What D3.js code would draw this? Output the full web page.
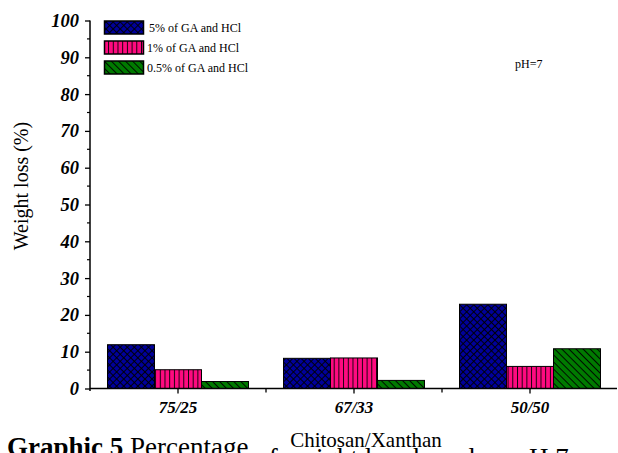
<!DOCTYPE html>
<html>
<head>
<meta charset="utf-8">
<script src="https://cdn.jsdelivr.net/npm/d3@7"></script>
<style>
  body { margin: 0; background: #fff; }
  svg { display: block; font-family: "Liberation Serif", "Times New Roman", serif; }
</style>
</head>
<body>
<svg width="618" height="453"></svg>
<script>
// data
const categories = ['75/25', '67/33', '50/50']
const seriesNames = ['5% of GA and HCl', '1% of GA and HCl', '0.5% of GA and HCl']
const ga5 = [11.9, 8.2, 22.9]
const ga1 = [5.1, 8.3, 6.0]
const ga05 = [1.9, 2.2, 10.8]
const yTicks = [0, 10, 20, 30, 40, 50, 60, 70, 80, 90, 100]

const seriesValues = [ga5, ga1, ga05]
const fills = ['#00009a', '#ff0a80', '#007a00']
const patterns = ['hatchCross', 'hatchVert', 'hatchDiag']

const svg = d3.select('svg')
const padL = 90, padR = 618, padT = 20.5, padB = 388.5

//scales
const x = d3.scaleBand().domain(categories).range([padL, padR])
const xInner = d3.scaleBand().domain(d3.range(3)).range([17.5, x.bandwidth() - 17.5])
const y = d3.scaleLinear().domain([0, 100]).range([padB, padT])

//patterns
const defs = svg.append('defs')
function pattern(id, color, w, rot, lines) {
  const p = defs.append('pattern')
    .attr('id', id)
    .attr('patternUnits', 'userSpaceOnUse')
    .attr('width', w).attr('height', w)
  if (rot) p.attr('patternTransform', 'rotate(' + rot + ')')
  p.append('rect').attr('width', w).attr('height', w).attr('fill', color)
  p.append('path').attr('d', lines).attr('stroke', '#000').attr('stroke-width', 0.9)
}
pattern('hatchCross', fills[0], 5, 45, 'M0.5,0V5M0,0.5H5')
pattern('hatchVert', fills[1], 4.7, 0, 'M0.5,0V4.7')
pattern('hatchDiag', fills[2], 5, -45, 'M0.5,0V5')

//bars
categories.forEach((c, ci) => {
  seriesValues.forEach((vals, si) => {
    svg.append('rect')
      .attr('x', x(c) + xInner(si))
      .attr('y', y(vals[ci]))
      .attr('width', xInner.bandwidth())
      .attr('height', y(0) - y(vals[ci]))
      .attr('fill', 'url(#' + patterns[si] + ')')
      .attr('stroke', '#000')
      .attr('stroke-width', 1)
  })
})

//x axis
const xAxis = svg.append('g')
  .attr('transform', 'translate(0,' + padB + ')')
xAxis.append('line').attr('x1', padL).attr('x2', padR - 1).attr('stroke', '#000').attr('stroke-width', 1.5)
categories.forEach(c => {
  const cx = x(c) + x.bandwidth() / 2
  xAxis.append('line').attr('x1', cx).attr('x2', cx).attr('y1', 0).attr('y2', 5)
    .attr('stroke', '#000').attr('stroke-width', 1.3)
  xAxis.append('text').attr('x', cx).attr('y', 24)
    .attr('text-anchor', 'middle')
    .style('font-size', '17px').style('font-weight', 'bold').style('font-style', 'italic')
    .text(c)
})
categories.slice(1).forEach(c => {
  xAxis.append('line').attr('x1', x(c)).attr('x2', x(c)).attr('y1', 0).attr('y2', 4)
    .attr('stroke', '#000').attr('stroke-width', 1.3)
})

//y axis
const yAxis = d3.axisLeft(y)
  .tickValues(yTicks)
  .tickSize(5)
  .tickPadding(6)
const gy = svg.append('g')
  .attr('transform', 'translate(' + padL + ',0)')
  .call(yAxis)
gy.select('.domain').remove()
gy.selectAll('.tick line').attr('stroke-width', 1.3)
gy.selectAll('.tick text')
  .style('font-family', '"Liberation Serif", serif')
  .style('font-size', '18.5px').style('font-weight', 'bold').style('font-style', 'italic')
  .attr('fill', '#000')
gy.append('line').attr('y1', padT).attr('y2', padB + 2.5).attr('stroke', '#000').attr('stroke-width', 1.5)
gy.selectAll('.minor')
  .data(d3.range(5, 100, 10))
  .enter().append('line')
  .attr('x1', -3).attr('x2', 0)
  .attr('y1', d => y(d)).attr('y2', d => y(d))
  .attr('stroke', '#000').attr('stroke-width', 1.2)

//axis titles
svg.append('text')
  .attr('transform', 'translate(28,186) rotate(-90)')
  .attr('text-anchor', 'middle')
  .style('font-size', '20px')
  .text('Weight loss (%)')

svg.append('text')
  .attr('x', 366).attr('y', 447)
  .attr('text-anchor', 'middle')
  .style('font-size', '21px')
  .text('Chitosan/Xanthan')

//legend
seriesNames.forEach((s, i) => {
  const ly = 21 + i * 20
  svg.append('rect')
    .attr('x', 104.5).attr('y', ly).attr('width', 39).attr('height', 13)
    .attr('fill', 'url(#' + patterns[i] + ')')
    .attr('stroke', '#000').attr('stroke-width', 1.5)
  svg.append('text')
    .attr('x', i == 0 ? 149 : 147).attr('y', ly + 10.5)
    .style('font-size', '12px')
    .text(s)
})

svg.append('text')
  .attr('x', 515).attr('y', 68)
  .style('font-size', '12px')
  .text('pH=7')

//caption (clipped at the bottom of the picture)
const cap = svg.append('text')
  .attr('x', 7).attr('y', 456)
  .style('font-size', '27px')
cap.append('tspan').style('font-weight', 'bold').text('Graphic 5 ')
cap.append('tspan').text('Percentage ')
cap.append('tspan').attr('dy', 11).text('of weight loss based on pH 7')
</script>
</body>
</html>
